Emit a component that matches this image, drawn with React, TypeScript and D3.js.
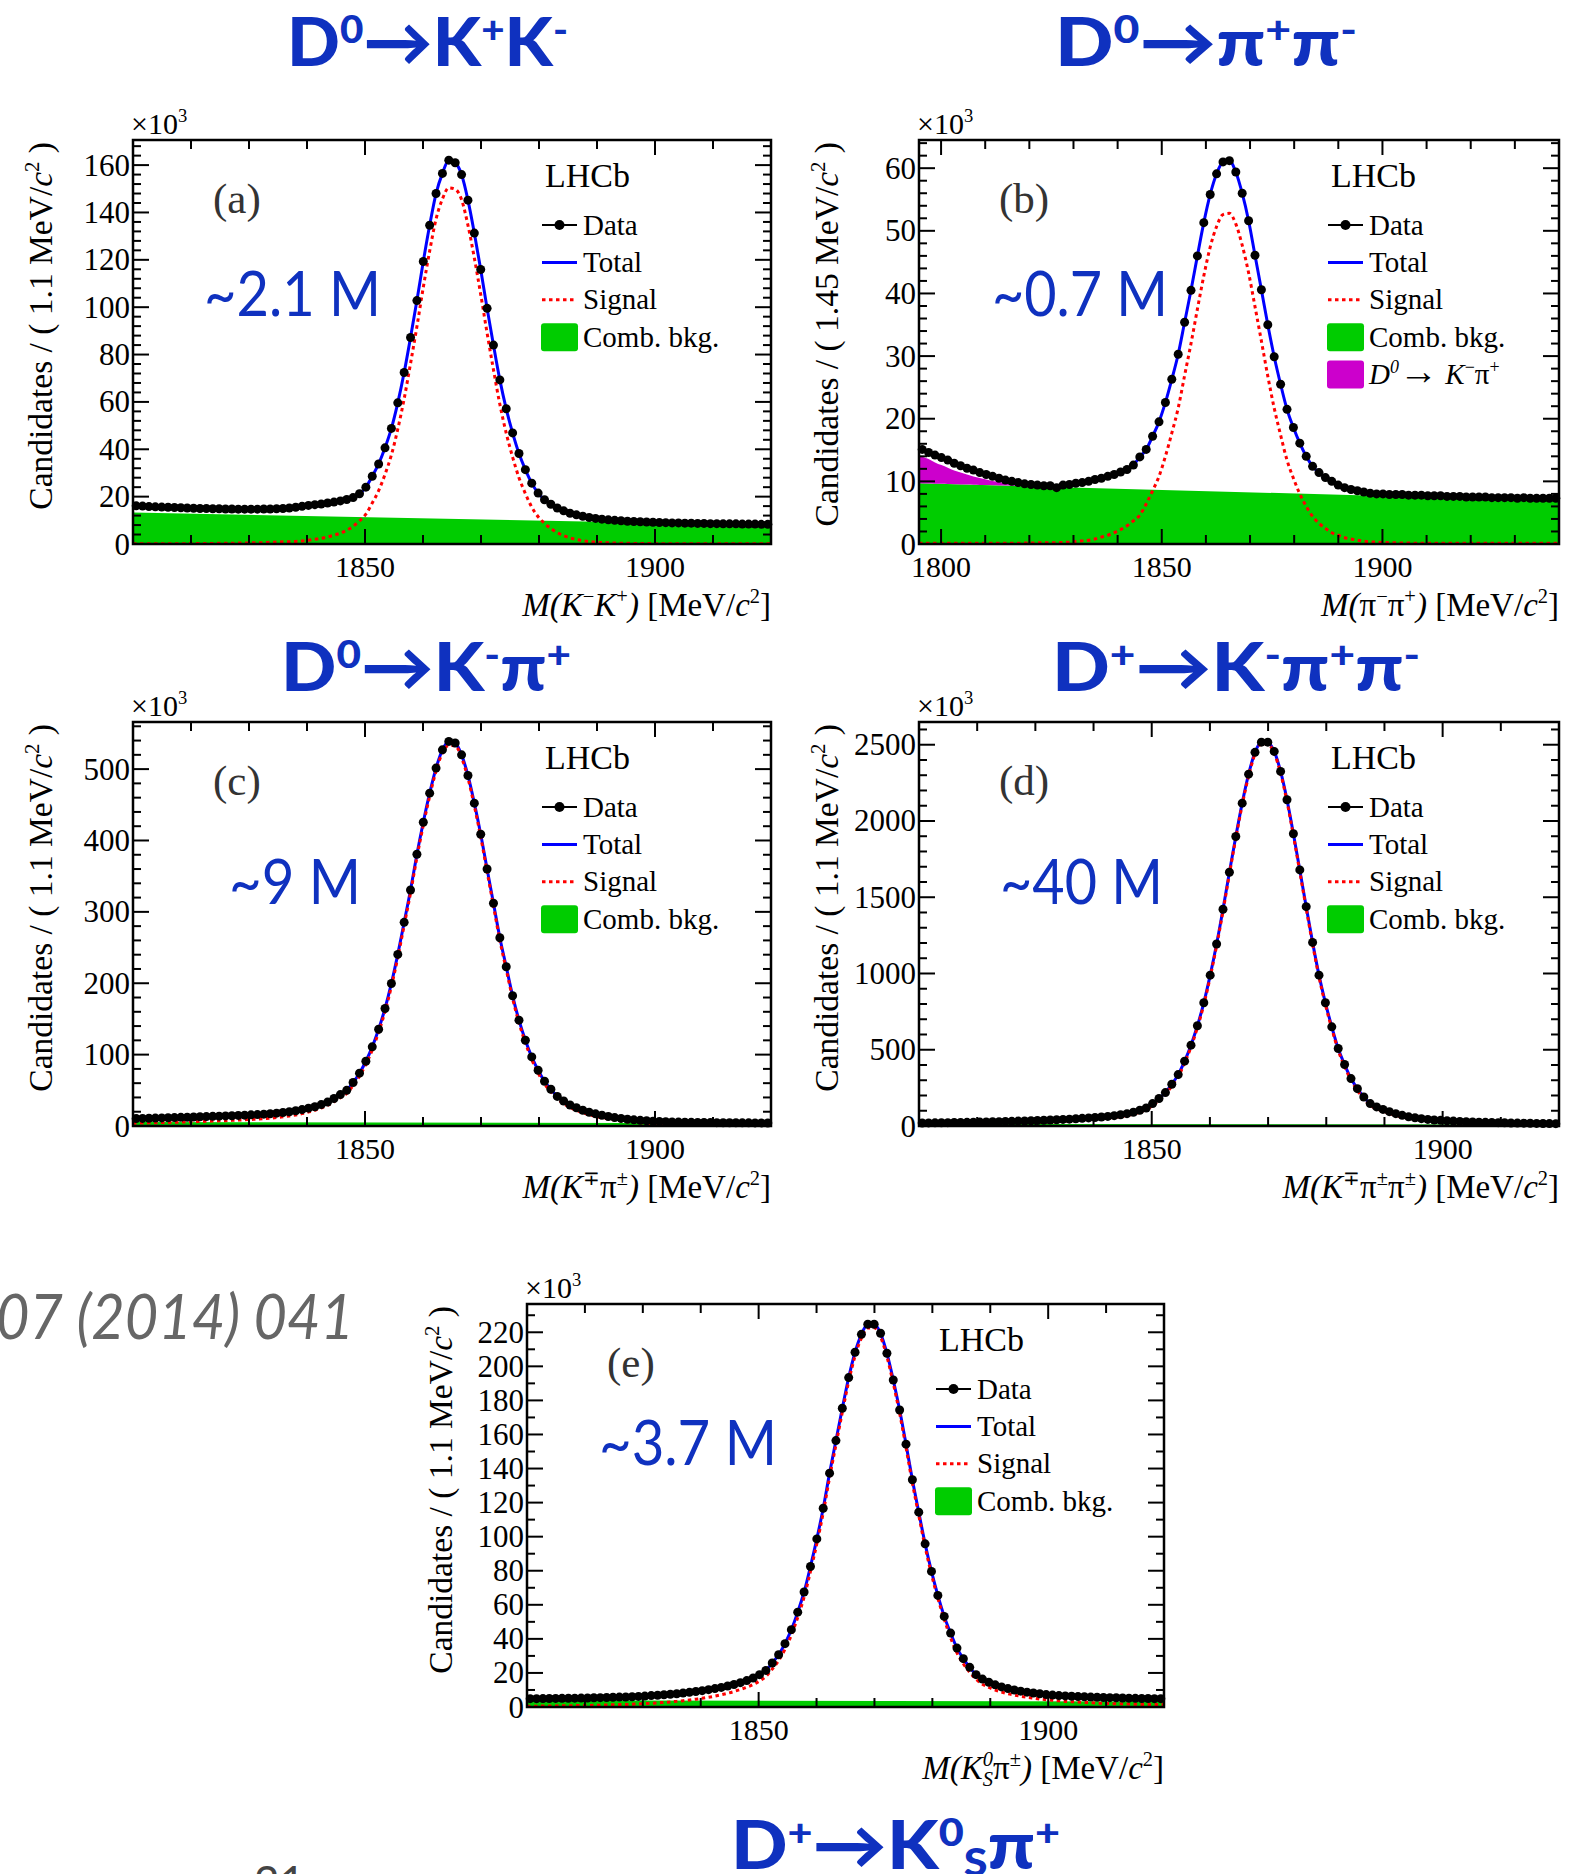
import React from "react";
import * as d3 from "d3";

// ---------------- data ----------------
// (a) D0 -> K+K-
const massRangeA = [1810, 1920];
const countsA = [16.1,16.0,15.8,15.7,15.6,15.5,15.4,15.3,15.2,15.1,
 15.0,15.0,14.9,14.9,14.8,14.8,14.7,14.7,14.7,14.7,
 14.8,14.8,14.9,15.0,15.2,15.5,15.9,16.3,16.6,16.9,
 17.3,17.7,18.2,18.8,19.6,21.2,24.0,28.6,33.8,40.6,
 48.8,59.6,72.4,87.2,102.8,119.3,134.6,148.0,156.5,162.1,
 161.0,156.0,145.2,131.3,115.9,99.5,84.0,69.3,57.1,46.9,
 38.2,31.4,25.7,21.5,18.7,16.8,15.2,14.0,13.0,12.3,
 11.7,11.2,10.8,10.5,10.2,10.0,9.8,9.6,9.5,9.4,
 9.3,9.2,9.1,9.0,8.9,8.9,8.8,8.8,8.7,8.7,
 8.6,8.6,8.5,8.5,8.5,8.4,8.4,8.4,8.3,8.3];
const signalA = [0.1,0.1,0.1,0.1,0.1,0.1,0.1,0.1,0.2,0.2,
 0.2,0.2,0.2,0.3,0.3,0.3,0.4,0.4,0.5,0.5,
 0.6,0.7,0.8,0.9,1.0,1.1,1.3,1.6,2.0,2.4,
 3.0,3.7,4.6,5.8,7.5,9.8,12.6,17.3,22.5,29.4,
 37.6,48.5,61.3,76.2,91.8,108.4,123.7,137.2,145.7,150.4,
 149.8,145.4,134.6,120.8,105.4,89.1,73.6,59.0,46.8,36.7,
 28.0,21.3,15.6,11.5,8.7,6.5,4.8,3.5,2.6,1.9,
 1.4,1.0,0.8,0.6,0.5,0.4,0.3,0.3,0.2,0.2,
 0.2,0.2,0.1,0.1,0.1,0.1,0.1,0.1,0.1,0.1,
 0.1,0.1,0.1,0.1,0.1,0.1,0.1,0.1,0.1,0.1];
const combBkgA = [13.3, 8.0];

// (b) D0 -> pi+pi-
const massRangeB = [1795, 1940];
const countsB = [15.1,14.6,14.2,13.8,13.4,12.9,12.5,12.1,11.8,11.4,
 11.1,10.8,10.5,10.2,10.0,9.8,9.6,9.5,9.4,9.3,
 9.3,9.0,9.4,9.5,9.7,9.8,10.0,10.3,10.5,10.8,
 11.1,11.5,11.9,12.6,13.9,15.1,17.2,19.5,22.6,26.3,
 30.3,35.4,40.5,46.0,51.3,55.8,59.1,61.0,61.2,59.4,
 56.0,51.6,46.1,40.6,35.0,29.9,25.5,21.5,18.6,16.1,
 14.0,12.4,11.4,10.6,10.0,9.4,9.0,8.7,8.5,8.3,
 8.1,8.0,8.0,7.9,7.9,7.9,7.8,7.8,7.8,7.7,
 7.7,7.7,7.6,7.6,7.6,7.5,7.5,7.5,7.5,7.4,
 7.4,7.4,7.4,7.3,7.4,7.3,7.3,7.3,7.3,7.3];
const signalB = [0.1,0.1,0.1,0.1,0.1,0.1,0.1,0.1,0.1,0.1,
 0.1,0.1,0.1,0.1,0.1,0.1,0.15,0.15,0.2,0.2,
 0.2,0.2,0.25,0.3,0.4,0.5,0.6,0.8,1.1,1.4,
 1.8,2.3,2.9,3.7,4.6,6.4,8.5,10.8,14.0,17.7,
 21.7,26.9,32.0,37.5,42.8,47.4,50.7,52.6,52.8,51.1,
 47.7,43.3,37.9,32.4,26.8,21.7,17.4,13.4,10.5,8.0,
 6.0,4.4,3.3,2.5,1.8,1.4,1.0,0.8,0.6,0.45,
 0.35,0.3,0.25,0.2,0.2,0.15,0.15,0.1,0.1,0.1,
 0.1,0.1,0.1,0.1,0.1,0.1,0.1,0.1,0.1,0.1,
 0.1,0.1,0.1,0.1,0.1,0.1,0.1,0.1,0.1,0.1];
const combBkgB = [9.7, 6.9];
const misIdB = [4.4,3.9,3.4,3.0,2.6,2.2,1.9,1.6,1.3,1.1,0.9,0.7,0.55,0.45,0.35,0.25,0.2,0.15,0.1,0.05];

// (c) D0 -> K-pi+
const massRangeC = [1810, 1920];
const countsC = [10.4,10.6,10.9,11.1,11.3,11.6,11.8,12.1,12.3,12.6,
 12.9,13.2,13.5,13.8,14.1,14.4,14.8,15.2,15.6,16.0,
 16.6,17.2,18.0,18.9,20.0,21.3,23.0,25.0,27.0,30.0,
 33.5,38.5,44.0,50.0,61.0,74.0,90.7,110.9,135.6,164.6,
 199.7,240.4,285.3,330.7,380.7,425.6,466.3,501.4,527.0,538.8,
 536.5,520.0,491.1,452.3,408.8,360.1,312.0,263.8,223.1,182.4,
 148.3,120.2,96.8,78.1,62.7,51.5,41.5,35.0,29.5,25.5,
 22.0,19.2,17.0,15.0,13.3,11.8,10.6,9.5,8.6,7.9,
 7.3,6.8,6.4,6.0,5.7,5.5,5.3,5.1,5.0,4.9,
 4.8,4.7,4.6,4.5,4.5,4.4,4.4,4.3,4.3,4.2];
const signalC = [4.0,4.2,4.4,4.6,4.8,5.0,5.2,5.5,5.7,6.0,
 6.3,6.6,6.9,7.2,7.5,7.9,8.3,8.7,9.2,9.7,
 10.3,11.0,11.8,12.8,14.0,15.5,17.3,19.5,22.0,25.2,
 29.0,34.0,39.5,45.6,56.6,69.6,86.4,106.6,131.3,160.3,
 195.4,236.1,281.0,326.4,376.4,421.3,462.0,497.1,522.7,533.0,
 532.7,516.2,487.3,448.5,405.0,356.3,308.3,260.1,219.4,178.7,
 144.6,116.6,93.2,74.5,59.1,47.9,37.9,31.4,26.0,22.0,
 18.5,15.7,13.5,11.5,9.8,8.3,7.1,6.0,5.1,4.4,
 3.8,3.3,2.9,2.5,2.2,2.0,1.8,1.6,1.5,1.4,
 1.3,1.2,1.1,1.0,1.0,0.9,0.9,0.8,0.8,0.8];
const combBkgC = [5.5, 4.0];

// (d) D+ -> K-pi+pi+
const massRangeD = [1810, 1920];
const countsD = [20.0,20.4,20.9,21.4,22.0,22.6,23.3,24.0,24.8,25.5,
 26.5,27.5,28.5,29.5,30.5,32.0,33.0,34.5,36.0,37.5,
 39,41,43,45,47.5,50,53,56,59,63,
 68,74,81,90,103,118,147,180,219,274,
 337,425,530,657,808,989,1193,1421,1664,1898,
 2117,2307,2450,2517,2517,2456,2325,2139,1916,1679,
 1438,1204,989,808,650,508,403,311,245,190,
 147,125,109,94,81,70,60,54,48,43,
 39.5,37,34.5,32,30,28,26.5,25,24,23,
 22,21,20,19.2,18.5,17.8,17.2,16.6,16,15.5];
const signalD = [8,8.5,9,9.5,10,10.6,11.3,12,12.8,13.5,
 14.5,15.5,16.5,17.5,18.5,20,21,22.5,24,25.5,
 27,29,31,33,35.5,38,41,44,47,51,
 56,62,69,78,91,106,135,168,207,262,
 325,413,518,645,796,977,1181,1409,1652,1886,
 2105,2295,2438,2505,2505,2444,2313,2127,1904,1667,
 1426,1192,977,796,638,496,391,300,234,179,
 136,114,98,83,70,59,50,44,38,33,
 30,27.5,25,23,21,19,17.5,16,15,14,
 13,12,11,10.3,9.7,9.1,8.6,8.1,7.6,7.2];
const combBkgD = [14, 10];

// (e) D+ -> KS pi+
const massRangeE = [1810, 1920];
const countsE = [4.9,4.9,4.95,5.0,5.05,5.1,5.15,5.2,5.25,5.3,
 5.4,5.5,5.6,5.7,5.8,5.9,6.0,6.2,6.4,6.7,
 6.9,7.2,7.5,7.8,8.2,8.6,9.1,9.6,10.2,10.8,
 11.5,12.3,13.2,14.3,15.5,17.0,19.0,21.5,25.8,30.7,
 37.2,45.4,55.7,67.5,82.5,98.7,116.7,137.3,156.4,175.4,
 193.4,208.3,218.8,224.7,224.7,219.4,207.7,192.0,174.4,154.3,
 133.4,114.4,95.8,79.6,65.5,53.2,43.4,34.6,28.4,23.3,
 19.0,16.4,14.5,13.0,11.8,10.8,10.0,9.3,8.7,8.2,
 7.8,7.3,7.0,6.7,6.5,6.3,6.1,6.0,5.8,5.7,
 5.6,5.5,5.4,5.3,5.2,5.1,5.0,5.0,4.9,4.9];
const signalE = [0.5,0.5,0.55,0.6,0.65,0.7,0.75,0.8,0.85,0.9,
 1.0,1.1,1.2,1.3,1.4,1.5,1.6,1.8,2.0,2.2,
 2.4,2.7,3.0,3.3,3.7,4.1,4.6,5.1,5.7,6.4,
 7.2,8.1,9.1,10.3,11.6,13.2,15.3,17.9,22.3,27.3,
 33.9,42.2,52.6,64.5,79.6,95.9,114.0,134.7,153.9,173.0,
 191.1,206.1,216.6,222.5,222.6,217.3,205.7,190.0,172.4,152.4,
 131.5,112.6,94.0,77.9,63.8,51.6,40.6,31.8,25.4,20.4,
 16.3,13.4,11.5,10.0,8.8,7.8,7.0,6.3,5.7,5.2,
 4.7,4.3,3.9,3.6,3.3,3.1,2.9,2.7,2.5,2.3,
 2.2,2.0,1.9,1.8,1.7,1.6,1.5,1.5,1.4,1.4];
const combBkgE = [4.0, 3.2];

// axis settings / labels
const yMaxes = [170.6, 64.5, 566, 2649, 236.6];
const yMajorSteps = [20, 10, 100, 500, 20];
const yMinorSteps = [4, 2, 20, 100, 10];
const xLabelTicks = [[1850, 1900], [1800, 1850, 1900], [1850, 1900], [1850, 1900], [1850, 1900]];
const binWidthTexts = ["1.1", "1.45", "1.1", "1.1", "1.1"];
const yieldTexts = ["~2.1 M", "~0.7 M", "~9 M", "~40 M", "~3.7 M"];
const panelTags = ["(a)", "(b)", "(c)", "(d)", "(e)"];
const legendNames = ["Data", "Total", "Signal", "Comb. bkg."];

type Seg = { t: string; sup?: boolean; sub?: boolean; it?: boolean; dx?: number; big?: number };

const xTitles: Seg[][] = [
  [{ t: "M(K", it: true }, { t: "−", sup: true }, { t: "K", it: true }, { t: "+", sup: true }, { t: ")", it: true }, { t: " [MeV/" }, { t: "c", it: true }, { t: "2", sup: true }, { t: "]" }],
  [{ t: "M(", it: true }, { t: "π" }, { t: "−", sup: true }, { t: "π" }, { t: "+", sup: true }, { t: ")", it: true }, { t: " [MeV/" }, { t: "c", it: true }, { t: "2", sup: true }, { t: "]" }],
  [{ t: "M(K", it: true }, { t: "∓", sup: true }, { t: "π" }, { t: "±", sup: true }, { t: ")", it: true }, { t: " [MeV/" }, { t: "c", it: true }, { t: "2", sup: true }, { t: "]" }],
  [{ t: "M(K", it: true }, { t: "∓", sup: true }, { t: "π" }, { t: "±", sup: true }, { t: "π" }, { t: "±", sup: true }, { t: ")", it: true }, { t: " [MeV/" }, { t: "c", it: true }, { t: "2", sup: true }, { t: "]" }],
  [{ t: "M(K", it: true }, { t: "0", sup: true, it: true }, { t: "S", sub: true, it: true, dx: -0.31 }, { t: "π" }, { t: "±", sup: true }, { t: ")", it: true }, { t: " [MeV/" }, { t: "c", it: true }, { t: "2", sup: true }, { t: "]" }],
];

const decayTitles: Seg[][] = [
  [{ t: "D" }, { t: "0", sup: true }, { t: "→" }, { t: "K" }, { t: "+", sup: true }, { t: "K" }, { t: "-", sup: true }],
  [{ t: "D" }, { t: "0", sup: true }, { t: "→" }, { t: "π" }, { t: "+", sup: true }, { t: "π" }, { t: "-", sup: true }],
  [{ t: "D" }, { t: "0", sup: true }, { t: "→" }, { t: "K" }, { t: "-", sup: true }, { t: "π" }, { t: "+", sup: true }],
  [{ t: "D" }, { t: "+", sup: true }, { t: "→" }, { t: "K" }, { t: "-", sup: true }, { t: "π" }, { t: "+", sup: true }, { t: "π" }, { t: "-", sup: true }],
  [{ t: "D" }, { t: "+", sup: true }, { t: "→" }, { t: "K" }, { t: "0", sup: true }, { t: "S", sub: true }, { t: "π" }, { t: "+", sup: true }],
];

const misIdLegend: Seg[] = [{ t: "D", it: true }, { t: "0", sup: true, it: true }, { t: "→", big: 1.35 }, { t: " K", it: true }, { t: "−", sup: true }, { t: "π" }, { t: "+", sup: true }];

// ---------------- layout & style ----------------
const FRAMES = [
  { x0: 133, x1: 771, y0: 140, y1: 544 },
  { x0: 919, x1: 1559, y0: 140, y1: 544 },
  { x0: 133, x1: 771, y0: 722, y1: 1126 },
  { x0: 919, x1: 1559, y0: 722, y1: 1126 },
  { x0: 527, x1: 1164, y0: 1304, y1: 1707 },
];
const YTITLE_OFF = [81, 81, 81, 81, 75];
const YIELD_POS = [
  { x: 204, y: 316, w: 177 },
  { x: 992, y: 316, w: 176 },
  { x: 229, y: 904, w: 132 },
  { x: 1000, y: 904, w: 163 },
  { x: 599, y: 1465, w: 178 },
];
const TITLE_POS = [
  { x: 287, y: 66, w: 281 },
  { x: 1055, y: 66, w: 302 },
  { x: 281, y: 691, w: 290 },
  { x: 1052, y: 691, w: 368 },
  { x: 731, y: 1869, w: 329 },
];

const SERIF = "'Liberation Serif','Times New Roman',Times,serif";
const SANS = "Lato,'Open Sans','DejaVu Sans',sans-serif";
const GREEN = "#00cc00";
const MAGENTA = "#cc00cc";
const BLUE = "#0000ff";
const RED = "#ff0000";
const TITLE_BLUE = "#0f31bf";

function Rich({ x, y, segs, fs, anchor = "start", supScale = 0.62, supShift = -0.4, subShift = 0.22, ...rest }: any) {
  let cur = 0;
  const kids = segs.map((s: Seg, i: number) => {
    const small = s.sup || s.sub;
    const target = s.sup ? supShift * fs : s.sub ? subShift * fs : 0;
    const dy = target - cur;
    cur = target;
    return (
      <tspan key={i} dy={dy !== 0 ? dy : undefined} dx={s.dx ? s.dx * fs : undefined}
        fontSize={small ? fs * supScale : fs * (s.big || 1)} fontStyle={s.it ? "italic" : undefined}>
        {s.t}
      </tspan>
    );
  });
  return (
    <text x={x} y={y} fontSize={fs} textAnchor={anchor} {...rest}>
      {kids}
    </text>
  );
}

const PANELS = [0, 1, 2, 3, 4].map((i) => ({
  range: [massRangeA, massRangeB, massRangeC, massRangeD, massRangeE][i],
  counts: [countsA, countsB, countsC, countsD, countsE][i],
  signal: [signalA, signalB, signalC, signalD, signalE][i],
  bkg: [combBkgA, combBkgB, combBkgC, combBkgD, combBkgE][i],
  misId: i === 1 ? misIdB : null,
  yMax: yMaxes[i],
  yMajor: yMajorSteps[i],
  yMinor: yMinorSteps[i],
  xLabels: xLabelTicks[i],
  binText: binWidthTexts[i],
  yieldText: yieldTexts[i],
  tag: panelTags[i],
  xTitle: xTitles[i],
}));

function Panel({ idx }: { idx: number }) {
  const cfg = PANELS[idx];
  const { x0, x1, y0, y1 } = FRAMES[idx];
  const x = d3.scaleLinear().domain(cfg.range).range([x0, x1]);
  const y = d3.scaleLinear().domain([0, cfg.yMax]).range([y1, y0]);
  const n = cfg.counts.length;
  const bw = (cfg.range[1] - cfg.range[0]) / n;
  const centers = cfg.counts.map((_, i) => cfg.range[0] + bw * (i + 0.5));
  const bkgAt = d3.scaleLinear().domain(cfg.range).range(cfg.bkg);
  const withEdges = (vals: number[]) => [
    [cfg.range[0], vals[0]],
    ...vals.map((v, i) => [centers[i], v]),
    [cfg.range[1], vals[vals.length - 1]],
  ];
  const line = d3.line<number[]>().x((d) => x(d[0])).y((d) => y(d[1])).curve(d3.curveMonotoneX);
  const bkgArea = d3.area<number>().x((d) => x(d)).y0(y(0)).y1((d) => y(bkgAt(d)));
  const clipId = `clip${idx}`;

  let misPath: string | null = null;
  if (cfg.misId) {
    const pts = cfg.misId.map((v, i) => {
      const xv = i === 0 ? cfg.range[0] : centers[i];
      return [xv, bkgAt(xv), bkgAt(xv) + v];
    });
    misPath = d3.area<number[]>().x((d) => x(d[0])).y0((d) => y(d[1])).y1((d) => y(d[2])).curve(d3.curveMonotoneX)(pts);
  }

  const eps = 1e-9;
  const yMinorTicks = d3.range(0, cfg.yMax + eps, cfg.yMinor);
  const yMajorTicks = d3.range(0, cfg.yMax + eps, cfg.yMajor);
  const xTenTicks = d3.range(Math.ceil(cfg.range[0] / 10) * 10, cfg.range[1] + eps, 10);
  const isMajorX = (v: number) => v % 50 === 0;

  const legX = x0 + 409;
  const rowY = (k: number) => y0 + 85 + 37.4 * k;
  const lfs = 29;

  return (
    <g>
      <defs>
        <clipPath id={clipId}>
          <rect x={x0} y={y0} width={x1 - x0} height={y1 - y0} />
        </clipPath>
      </defs>
      <g clipPath={`url(#${clipId})`}>
        <path d={bkgArea(cfg.range) || ""} fill={GREEN} />
        {misPath && <path d={misPath} fill={MAGENTA} />}
        <path d={line(withEdges(cfg.counts)) || ""} fill="none" stroke={BLUE} strokeWidth={3} />
        <path d={line(withEdges(cfg.signal)) || ""} fill="none" stroke={RED} strokeWidth={3} strokeDasharray="3.5 3.5" />
      </g>
      {cfg.counts.map((v, i) => (
        <circle key={i} cx={x(centers[i])} cy={y(v)} r={4.5} fill="#000" />
      ))}

      {/* ticks */}
      <g stroke="#000" strokeWidth={2}>
        {yMinorTicks.map((v, i) => {
          const len = yMajorTicks.some((m) => Math.abs(m - v) < 1e-6) ? 16 : 8;
          return (
            <g key={"y" + i}>
              <line x1={x0} x2={x0 + len} y1={y(v)} y2={y(v)} />
              <line x1={x1} x2={x1 - len} y1={y(v)} y2={y(v)} />
            </g>
          );
        })}
        {xTenTicks.map((v, i) => {
          const len = isMajorX(v) ? 15 : 9;
          return (
            <g key={"x" + i}>
              <line x1={x(v)} x2={x(v)} y1={y1} y2={y1 - len} />
              <line x1={x(v)} x2={x(v)} y1={y0} y2={y0 + len} />
            </g>
          );
        })}
      </g>
      <rect x={x0} y={y0} width={x1 - x0} height={y1 - y0} fill="none" stroke="#000" strokeWidth={2.5} />

      {/* tick labels */}
      <g fontFamily={SERIF} fontSize={31} fill="#000">
        {yMajorTicks.map((v, i) => (
          <text key={i} x={x0 - 3} y={y(v) + 10.5} textAnchor="end">{v}</text>
        ))}
        {cfg.xLabels.map((v, i) => (
          <text key={i} x={x(v)} y={y1 + 33} textAnchor="middle" fontSize={30}>{v}</text>
        ))}
      </g>
      <Rich x={x0 - 2} y={y0 - 6} fs={30} fontFamily={SERIF} segs={[{ t: "×10" }, { t: "3", sup: true }]} />
      <Rich x={0} y={0} fs={33.5} anchor="end" fontFamily={SERIF}
        transform={`translate(${x0 - YTITLE_OFF[idx]},${y0 + 2}) rotate(-90)`}
        segs={[{ t: `Candidates / ( ${cfg.binText} MeV/` }, { t: "c", it: true }, { t: "2", sup: true }, { t: " )" }]} />
      <Rich x={x1} y={y1 + 72} fs={33} anchor="end" fontFamily={SERIF} segs={cfg.xTitle} />

      {/* labels inside */}
      <text x={x0 + 80} y={y0 + 73} fontFamily={SERIF} fontSize={43} fill="#333">{cfg.tag}</text>
      <text x={x0 + 412} y={y0 + 47} fontFamily={SERIF} fontSize={34} fill="#000">LHCb</text>

      {/* legend */}
      <g>
        <line x1={legX} x2={legX + 35} y1={rowY(0)} y2={rowY(0)} stroke="#000" strokeWidth={2} />
        <circle cx={legX + 17.5} cy={rowY(0)} r={5} fill="#000" />
        <line x1={legX} x2={legX + 35} y1={rowY(1)} y2={rowY(1)} stroke={BLUE} strokeWidth={3} />
        <line x1={legX} x2={legX + 35} y1={rowY(2)} y2={rowY(2)} stroke={RED} strokeWidth={3} strokeDasharray="3.5 3.5" />
        <rect x={legX - 1} y={rowY(3) - 14} width={37} height={28} rx={3} fill={GREEN} />
        {cfg.misId && <rect x={legX - 1} y={rowY(4) - 14} width={37} height={28} rx={3} fill={MAGENTA} />}
        {legendNames.map((nm, k) => (
          <text key={k} x={legX + 41} y={rowY(k) + 9.5} fontFamily={SERIF} fontSize={lfs} fill="#000">{nm}</text>
        ))}
        {cfg.misId && <Rich x={legX + 41} y={rowY(4) + 9.5} fs={lfs} fontFamily={SERIF} segs={misIdLegend} />}
      </g>

      {/* yield annotation */}
      <text x={YIELD_POS[idx].x} y={YIELD_POS[idx].y} fontFamily={SANS} fontSize={62} fill={TITLE_BLUE}
        textLength={YIELD_POS[idx].w} lengthAdjust="spacingAndGlyphs">{cfg.yieldText}</text>
    </g>
  );
}

export default function App() {
  return (
    <svg width={1586} height={1874} viewBox="0 0 1586 1874"
      style={{ position: "absolute", left: 0, top: 0, background: "#fff" }}>
      <rect x={0} y={0} width={1586} height={1874} fill="#fff" />
      {decayTitles.map((segs, i) => (
        <Rich key={i} x={TITLE_POS[i].x} y={TITLE_POS[i].y} fs={67} segs={segs} fontFamily={SANS} fontWeight={900}
          fill={TITLE_BLUE} supScale={0.58} supShift={-0.34} subShift={0.1}
          textLength={TITLE_POS[i].w} lengthAdjust="spacingAndGlyphs" />
      ))}
      {[0, 1, 2, 3, 4].map((i) => (
        <Panel key={i} idx={i} />
      ))}
      <text x={-4} y={1339} textAnchor="end" fontFamily={SANS} fontStyle="italic" fontSize={62} fill="#666">JHEP</text>
      <text x={-4} y={1339} fontFamily={SANS} fontStyle="italic" fontSize={62} fill="#666"
        textLength={358} lengthAdjust="spacingAndGlyphs">07 (2014) 041</text>
      <text x={254} y={1898} fontFamily={SANS} fontSize={44} fill="#444">21</text>
    </svg>
  );
}
